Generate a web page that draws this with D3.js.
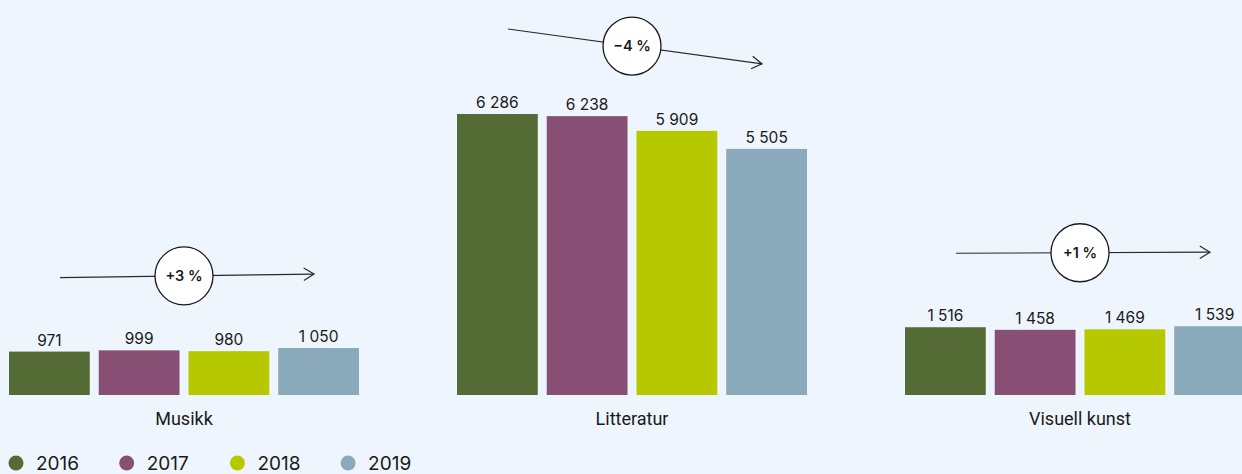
<!DOCTYPE html>
<html>
<head>
<meta charset="utf-8">
<script src="https://cdn.jsdelivr.net/npm/d3@7"></script>
<style>
  html, body { margin: 0; padding: 0; background: #eef5fc; }
  svg { display: block; font-family: Inter, "Liberation Sans", sans-serif; }
</style>
</head>
<body>
<svg id="chart" width="1242" height="474"></svg>
<script>
// Categories and yearly counts
const categories = ["Musikk", "Litteratur", "Visuell kunst"];
const years = ["2016", "2017", "2018", "2019"];
const values2016 = [971, 6286, 1516];
const values2017 = [999, 6238, 1458];
const values2018 = [980, 5909, 1469];
const values2019 = [1050, 5505, 1539];
const changeLabels = ["+3 %", "\u22124 %", "+1 %"];
const colors = ["#556b35", "#874f73", "#b5c800", "#8aa9bb"];

const series = [values2016, values2017, values2018, values2019];
const rows = categories.map((c, i) => ({
  category: c,
  values: years.map((y, j) => ({ year: y, value: series[j][i] })),
  change: changeLabels[i]
}));

const svg = d3.select("#chart");
const baseY = 395;

const x0 = d3.scaleBand().domain(categories).range([9, 1255]).paddingInner(0.21875).paddingOuter(0);
const x1 = d3.scaleBand().domain(years).range([0, x0.bandwidth()]).paddingInner(0.1).paddingOuter(0);
const y = d3.scaleLinear().domain([0, 6286]).range([baseY, 114]);
const color = d3.scaleOrdinal().domain(years).range(colors);

// Norwegian number style: space as thousands separator
const nb = d3.formatLocale({ decimal: ",", thousands: "\u00a0", grouping: [3], currency: ["", " kr"] });
const fmt = nb.format(",d");

const groups = svg.selectAll("g.group").data(rows).join("g")
  .attr("class", "group")
  .attr("transform", d => `translate(${x0(d.category)},0)`);

groups.selectAll("rect").data(d => d.values).join("rect")
  .attr("x", d => x1(d.year))
  .attr("y", d => y(d.value))
  .attr("width", x1.bandwidth())
  .attr("height", d => baseY - y(d.value))
  .attr("fill", d => color(d.year));

groups.selectAll("text.val").data(d => d.values).join("text")
  .attr("class", "val")
  .attr("x", d => x1(d.year) + x1.bandwidth() / 2)
  .attr("y", d => y(d.value) - 6)
  .attr("text-anchor", "middle")
  .attr("font-size", 15.5)
  .attr("fill", "#1a1a1a")
  .text(d => fmt(d.value));

groups.append("text")
  .attr("x", x0.bandwidth() / 2)
  .attr("y", 425)
  .attr("text-anchor", "middle")
  .attr("font-family", "Roboto, Inter, sans-serif")
  .attr("font-size", 18)
  .attr("fill", "#1a1a1a")
  .text(d => d.category);

// Trend arrows: run from the first to the last year's bar top, lifted above the bars
const lift = [74, 85, 74];
const arrow = groups.append("g").attr("class", "trend");
arrow.each(function (d, i) {
  const g = d3.select(this);
  const first = d.values[0].value, last = d.values[d.values.length - 1].value;
  const xs = 51, xe = x0.bandwidth() - 45;
  const ys = y(first) - lift[i], ye = y(last) - lift[i];
  g.append("line")
    .attr("x1", xs).attr("y1", ys).attr("x2", xe).attr("y2", ye)
    .attr("stroke", "#2a2a2a").attr("stroke-width", 1.2);
  const ang = Math.atan2(ye - ys, xe - xs);
  const hl = 12, hw = 0.55;
  g.append("path")
    .attr("d", `M${xe - hl * Math.cos(ang - hw)},${ye - hl * Math.sin(ang - hw)}L${xe},${ye}L${xe - hl * Math.cos(ang + hw)},${ye - hl * Math.sin(ang + hw)}`)
    .attr("fill", "none").attr("stroke", "#2a2a2a").attr("stroke-width", 1.2);
  const cx = x0.bandwidth() / 2;
  const cy = ys + (ye - ys) * (cx - xs) / (xe - xs);
  g.append("circle").attr("cx", cx).attr("cy", cy).attr("r", 29)
    .attr("fill", "#ffffff").attr("stroke", "#1a1a1a").attr("stroke-width", 1.3);
  g.append("text").attr("x", cx).attr("y", cy + 5)
    .attr("text-anchor", "middle").attr("font-size", 14.5).attr("font-weight", 600)
    .attr("fill", "#1a1a1a").text(d.change);
});

// Legend
const legend = svg.append("g").attr("class", "legend");
const li = legend.selectAll("g").data(years).join("g")
  .attr("transform", (d, i) => `translate(${16 + i * 110.7},463)`);
li.append("circle").attr("r", 7.5).attr("fill", d => color(d));
li.append("text").attr("x", 20).attr("y", 7).attr("font-size", 19).attr("fill", "#1a1a1a").text(d => d);
</script>
</body>
</html>
